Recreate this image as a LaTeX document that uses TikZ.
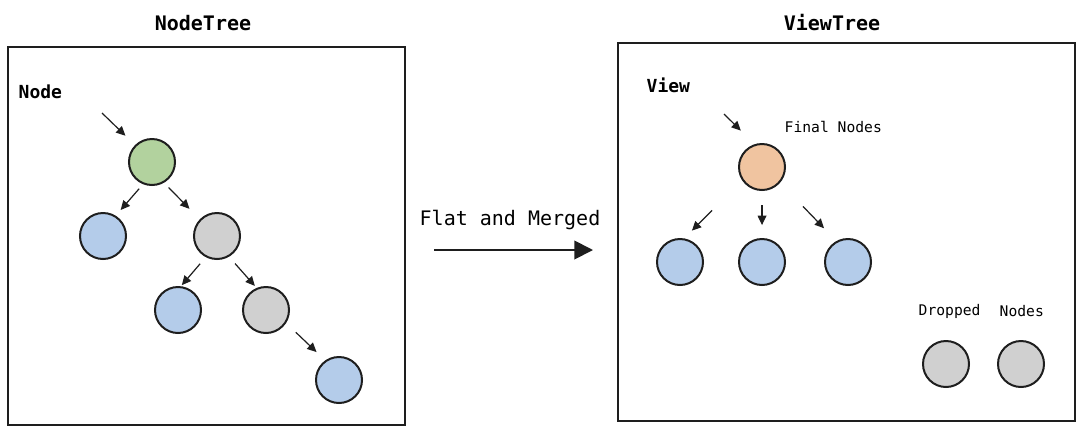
\documentclass[tikz,border=0pt]{standalone}
\usepackage{fontspec}
\setmonofont{DejaVu Sans Mono}
\definecolor{NTgreen}{HTML}{B2D29E}
\definecolor{NTblue}{HTML}{B4CCEA}
\definecolor{NTgray}{HTML}{D0D0D0}
\definecolor{NTpeach}{HTML}{F0C4A0}
\definecolor{NTink}{HTML}{1E1E1E}
\usetikzlibrary{arrows.meta, positioning}

\begin{document}
\begin{tikzpicture}[x=0.75pt, y=-0.75pt,
      ball/.style={circle, draw=NTink, line width=1.5pt, minimum size=34.5pt, inner sep=0pt},
      frame/.style={draw=NTink, line width=1.3pt},
      flow/.style={-{Triangle[length=7pt, width=6.5pt]}, NTink, line width=0.9pt},
      title/.style={font=\ttfamily\bfseries\fontsize{15}{18}\selectfont},
      tag/.style={font=\ttfamily\bfseries\fontsize{13.5}{16}\selectfont, anchor=west},
      note/.style={font=\ttfamily\fontsize{11}{13}\selectfont, anchor=west}]
      \useasboundingbox (0,0) rectangle (1080,429);
      % Titles
      \node[title] (ttl1) at (203,23) {NodeTree};
      \node[title] (ttl2) at (832,23) {ViewTree};
      % Frames
      \draw[frame] (8,47) rectangle (405,425);
      \draw[frame] (618,43) rectangle (1075,421);
      \node[tag] (lbl1) at (14,92) {Node};
      \node[tag] (lbl2) at (642,85) {View};
      % NodeTree circles
      \node[ball, fill=NTgreen] (nroot) at (152,162) {};
      \node[ball, fill=NTblue] (nleft) at (103,236) {};
      \node[ball, fill=NTgray] (nmid) at (217,236) {};
      \node[ball, fill=NTblue] (nmidl) at (178,310) {};
      \node[ball, fill=NTgray] (nmidr) at (266,310) {};
      \node[ball, fill=NTblue] (nleaf) at (339,380) {};
      % NodeTree arrows
      \coordinate (nin) at (102,113);
      \draw[flow, shorten >=10pt] (nin) -- (nroot.135);
      \draw[flow, shorten <=4.4pt, shorten >=5.6pt] (nroot.-112) -- (nleft.58);
      \draw[flow, shorten <=5pt, shorten >=11pt] (nroot.-60) -- (nmid.136);
      \draw[flow, shorten <=6.5pt, shorten >=1pt] (nmid.-118) -- (nmidl.83);
      \draw[flow, shorten <=6.8pt, shorten >=2pt] (nmid.-60) -- (nmidr.113);
      \draw[flow, shorten <=10pt, shorten >=9pt] (nmidr.-33) -- (nleaf.125);
      % Flat and Merged
      \node[font=\ttfamily\fontsize{15}{18}\selectfont] (merge) at (510,220) {Flat and Merged};
      \coordinate (mfrom) at (434,250);
      \coordinate (mto) at (593,250);
      \draw[-{Triangle[length=14pt, width=14pt]}, NTink, line width=1.4pt] (mfrom) -- (mto);
      % ViewTree circles
      \node[ball, fill=NTpeach] (vroot) at (762,167) {};
      \node[note] (fin) at (780,127) {Final Nodes};
      \node[ball, fill=NTblue] (vleft) at (680,262) {};
      \node[ball, fill=NTblue] (vmid) at (762,262) {};
      \node[ball, fill=NTblue] (vright) at (848,262) {};
      % ViewTree arrows
      \coordinate (vin) at (724,114);
      \draw[flow, shorten >=14.5pt] (vin) -- (vroot.108);
      \draw[flow, shorten <=31.8pt, shorten >=8.2pt] (vroot.-146) -- (vleft.80);
      \draw[flow, shorten <=10.5pt, shorten >=9.7pt] (vroot.-90) -- (vmid.90);
      \draw[flow, shorten <=24.7pt, shorten >=13.3pt] (vroot.-41) -- (vright.119);
      % Dropped nodes
      \node[note] (drp) at (914,311) {Dropped};
      \node[note] (drn) at (995,311) {Nodes};
      \node[ball, fill=NTgray] (drop1) at (946,364) {};
      \node[ball, fill=NTgray] (drop2) at (1021,364) {};
   \end{tikzpicture}
\end{document}
